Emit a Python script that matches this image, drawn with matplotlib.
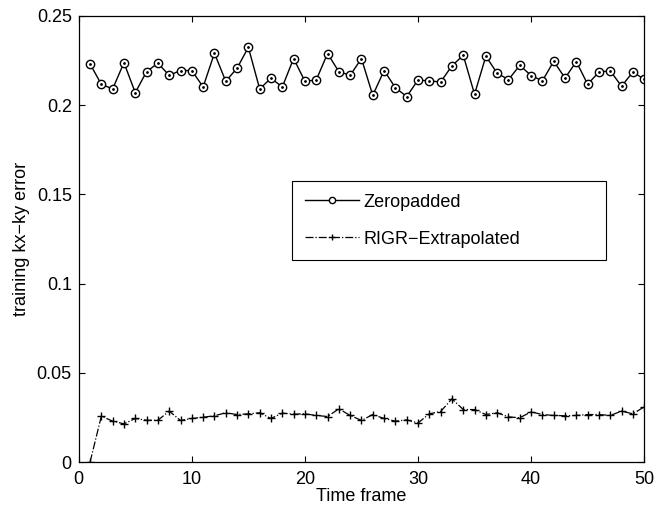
import numpy as np
import matplotlib
matplotlib.use('Agg')
from matplotlib import pyplot as plt
from matplotlib.ticker import FormatStrFormatter

plt.rcParams['font.family'] = ['Liberation Sans', 'DejaVu Sans']
plt.rcParams['font.size'] = 13

# time frames 1..50
frames = np.arange(1, 51)

zeropadded = [0.2231, 0.2117, 0.2091, 0.2238, 0.2070, 0.2188, 0.2235, 0.2167, 0.2194, 0.2194,
              0.2102, 0.2291, 0.2134, 0.2207, 0.2324, 0.2091, 0.2151, 0.2102, 0.2261, 0.2134,
              0.2141, 0.2289, 0.2188, 0.2167, 0.2261, 0.2055, 0.2194, 0.2098, 0.2048, 0.2141,
              0.2136, 0.2130, 0.2220, 0.2280, 0.2061, 0.2274, 0.2179, 0.2143, 0.2223, 0.2166,
              0.2136, 0.2246, 0.2152, 0.2244, 0.2117, 0.2186, 0.2192, 0.2106, 0.2186, 0.2145]

rigr_extrapolated = [0.0000, 0.0258, 0.0230, 0.0215, 0.0245, 0.0235, 0.0235, 0.0286, 0.0234, 0.0245,
                     0.0252, 0.0260, 0.0277, 0.0267, 0.0271, 0.0277, 0.0245, 0.0275, 0.0269, 0.0271,
                     0.0262, 0.0256, 0.0299, 0.0262, 0.0234, 0.0267, 0.0245, 0.0230, 0.0237, 0.0220,
                     0.0271, 0.0284, 0.0355, 0.0295, 0.0295, 0.0267, 0.0277, 0.0254, 0.0249, 0.0282,
                     0.0267, 0.0262, 0.0260, 0.0262, 0.0267, 0.0267, 0.0262, 0.0286, 0.0271, 0.0310]

fig = plt.figure(figsize=(6.56, 5.13), dpi=100)
ax = fig.add_axes([0.120, 0.099, 0.862, 0.870])

ax.plot(frames, zeropadded, color='black', linewidth=1.0, marker='o', markersize=6,
        markerfacecolor='white', markeredgecolor='black', markeredgewidth=1.0,
        label='Zeropadded')
# small dot in the centre of each circle, like the original rendering
ax.plot(frames, zeropadded, linestyle='none', marker='.', markersize=2, color='black')
ax.plot(frames, rigr_extrapolated, color='black', linewidth=0.9, linestyle='-.', marker='+',
        markersize=6, markeredgewidth=1.0, label='RIGR\u2212Extrapolated')

ax.set_xlim(0, 50)
ax.set_ylim(0, 0.25)
ax.set_xticks([0, 10, 20, 30, 40, 50])
ax.set_yticks([0, 0.05, 0.1, 0.15, 0.2, 0.25])
ax.yaxis.set_major_formatter(FormatStrFormatter('%g'))
ax.tick_params(direction='in', top=True, right=True, length=4, width=0.8, labelsize=13)
ax.tick_params(axis='x', pad=6)
ax.tick_params(axis='y', pad=5)
for s in ax.spines.values():
    s.set_linewidth(0.9)

ax.set_xlabel('Time frame', fontsize=13, labelpad=0)
ax.set_ylabel('training kx\u2212ky error', fontsize=13, labelpad=5)

leg = ax.legend(loc='upper left', bbox_to_anchor=(0.377, 0.455, 0.556, 0.175), mode='expand',
                fancybox=False, edgecolor='black', framealpha=1, fontsize=13,
                handlelength=3.0, handletextpad=0.25, borderpad=0.7, labelspacing=1.1,
                borderaxespad=0, markerscale=0.75)
leg.get_frame().set_linewidth(0.8)

fig.savefig('out.png', dpi=100)
